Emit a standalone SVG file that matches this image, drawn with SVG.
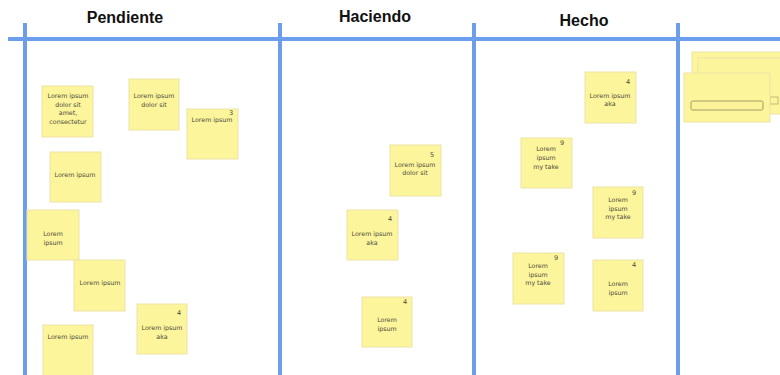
<svg xmlns="http://www.w3.org/2000/svg" width="780" height="375" viewBox="0 0 780 375">
  <style>
    .hdr { font-family: "Liberation Sans", Arial, sans-serif; font-weight: bold; font-size: 16px; fill: #111; text-anchor: middle; }
    .rule { stroke: #6d9eeb; stroke-width: 4; fill: none; }
    .note { fill: #fdf59c; stroke: #ece3a6; stroke-width: 1; }
    .txt { font-family: "DejaVu Sans", sans-serif; font-size: 6.3px; fill: #4a4a3a; text-anchor: middle; }
    .num { font-family: "DejaVu Sans", sans-serif; font-size: 6.5px; fill: #4a4a3a; text-anchor: middle; }
  </style>
  <rect width="780" height="375" fill="#ffffff"/>

  <!-- board grid -->
  <g id="grid">
    <line class="rule" x1="8" y1="39" x2="780" y2="39"/>
    <line class="rule" x1="25" y1="23" x2="25" y2="375"/>
    <line class="rule" x1="280" y1="23" x2="280" y2="375"/>
    <line class="rule" x1="474" y1="23" x2="474" y2="375"/>
    <line class="rule" x1="678" y1="23" x2="678" y2="375"/>
  </g>

  <!-- column headers -->
  <g id="headers">
    <text class="hdr" x="125" y="23">Pendiente</text>
    <text class="hdr" x="375" y="22">Haciendo</text>
    <text class="hdr" x="584" y="26">Hecho</text>
  </g>

  <!-- Pendiente column -->
  <g id="note-p1">
    <rect class="note" x="42" y="86" width="51" height="51"/>
    <text class="txt" x="68" y="98">Lorem ipsum</text>
    <text class="txt" x="68" y="107">dolor sit</text>
    <text class="txt" x="68" y="115">amet,</text>
    <text class="txt" x="68" y="124">consectetur</text>
  </g>
  <g id="note-p2">
    <rect class="note" x="129" y="79" width="50" height="51"/>
    <text class="txt" x="154" y="98">Lorem ipsum</text>
    <text class="txt" x="154" y="107">dolor sit</text>
  </g>
  <g id="note-p3">
    <rect class="note" x="187" y="109" width="51" height="50"/>
    <text class="num" x="231" y="115">3</text>
    <text class="txt" x="212" y="122">Lorem ipsum</text>
  </g>
  <g id="note-p4">
    <rect class="note" x="50" y="152" width="51" height="50"/>
    <text class="txt" x="75" y="177">Lorem ipsum</text>
  </g>
  <g id="note-p5">
    <rect class="note" x="27" y="210" width="52" height="50"/>
    <text class="txt" x="53" y="236">Lorem</text>
    <text class="txt" x="53" y="245">ipsum</text>
  </g>
  <g id="note-p6">
    <rect class="note" x="74" y="260" width="51" height="51"/>
    <text class="txt" x="100" y="285">Lorem ipsum</text>
  </g>
  <g id="note-p7">
    <rect class="note" x="137" y="304" width="50" height="50"/>
    <text class="num" x="179" y="315">4</text>
    <text class="txt" x="162" y="330">Lorem ipsum</text>
    <text class="txt" x="162" y="339">aka</text>
  </g>
  <g id="note-p8">
    <rect class="note" x="43" y="325" width="50" height="52"/>
    <text class="txt" x="68" y="339">Lorem ipsum</text>
  </g>

  <!-- Haciendo column -->
  <g id="note-h1">
    <rect class="note" x="390" y="145" width="51" height="51"/>
    <text class="num" x="432" y="157">5</text>
    <text class="txt" x="415" y="167">Lorem ipsum</text>
    <text class="txt" x="415" y="175">dolor sit</text>
  </g>
  <g id="note-h2">
    <rect class="note" x="347" y="210" width="51" height="50"/>
    <text class="num" x="390" y="221">4</text>
    <text class="txt" x="372" y="236">Lorem ipsum</text>
    <text class="txt" x="372" y="245">aka</text>
  </g>
  <g id="note-h3">
    <rect class="note" x="362" y="297" width="50" height="50"/>
    <text class="num" x="405" y="304">4</text>
    <text class="txt" x="387" y="322">Lorem</text>
    <text class="txt" x="387" y="331">ipsum</text>
  </g>

  <!-- Hecho column -->
  <g id="note-d1">
    <rect class="note" x="585" y="72" width="51" height="51"/>
    <text class="num" x="628" y="84">4</text>
    <text class="txt" x="610" y="98">Lorem ipsum</text>
    <text class="txt" x="610" y="106">aka</text>
  </g>
  <g id="note-d2">
    <rect class="note" x="521" y="138" width="51" height="50"/>
    <text class="num" x="562" y="145">9</text>
    <text class="txt" x="546" y="151">Lorem</text>
    <text class="txt" x="546" y="160">ipsum</text>
    <text class="txt" x="546" y="169">my take</text>
  </g>
  <g id="note-d3">
    <rect class="note" x="593" y="187" width="50" height="51"/>
    <text class="num" x="634" y="195">9</text>
    <text class="txt" x="618" y="202">Lorem</text>
    <text class="txt" x="618" y="211">ipsum</text>
    <text class="txt" x="618" y="219">my take</text>
  </g>
  <g id="note-d4">
    <rect class="note" x="513" y="253" width="51" height="51"/>
    <text class="num" x="556" y="260">9</text>
    <text class="txt" x="538" y="268">Lorem</text>
    <text class="txt" x="538" y="277">ipsum</text>
    <text class="txt" x="538" y="285">my take</text>
  </g>
  <g id="note-d5">
    <rect class="note" x="593" y="260" width="50" height="51"/>
    <text class="num" x="634" y="267">4</text>
    <text class="txt" x="618" y="286">Lorem</text>
    <text class="txt" x="618" y="295">ipsum</text>
  </g>

  <!-- stacked blank cards in the last column -->
  <g id="card-stack">
    <rect class="note" x="692" y="52" width="100" height="56"/>
    <rect class="note" x="698" y="58" width="100" height="56"/>
    <rect x="770" y="97" width="8" height="7" fill="#fdf59c" stroke="#b3ab70" stroke-width="0.8"/>
    <rect class="note" x="684" y="73" width="86" height="49"/>
    <rect x="691" y="101" width="72" height="9" rx="1.5" fill="#fbf29a" stroke="#a39c62" stroke-width="1"/>
  </g>
</svg>
